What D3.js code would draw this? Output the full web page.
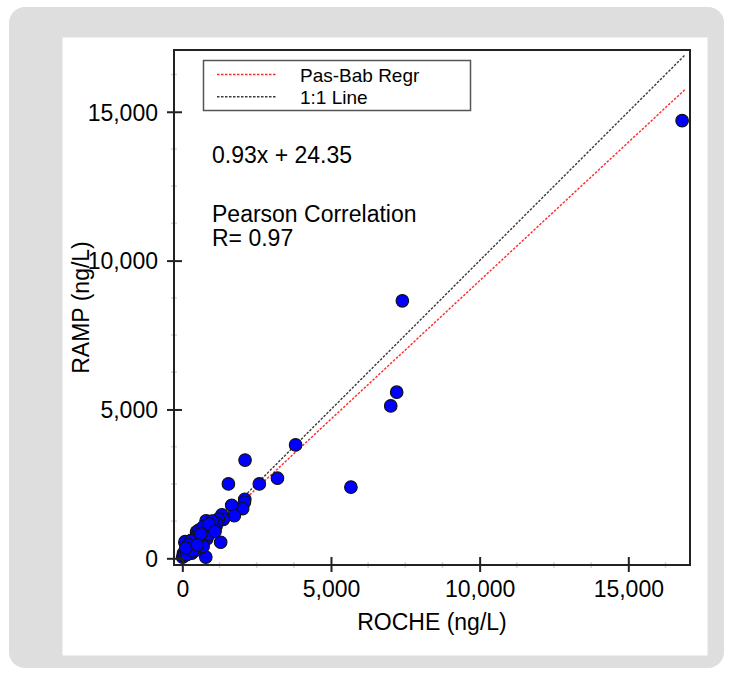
<!DOCTYPE html>
<html>
<head>
<meta charset="utf-8">
<script src="https://cdn.jsdelivr.net/npm/d3@7"></script>
<style>
  html, body { margin: 0; padding: 0; background: #fff; }
  text { font-family: "Liberation Sans", Arial, sans-serif; fill: #000; }
</style>
</head>
<body>
<svg id="chart" width="732" height="676"></svg>
<script>
// data (ng/L)
const roche = [16810, 7400, 7210, 7010, 5670, 3810, 3200, 2590, 2110, 1550,
  2100, 2090, 2030, 1660, 1750, 1330, 1380, 1210, 1130, 1160,
  1290, 800, 820, 930, 720, 820, 650, 480, 790, 370,
  430, 260, 90, 95, 150, 320, 480, 40, 10, 60,
  200, 550, 600, 700, 1000, 900, 250, 150, 380, 1050,
  560, 700, 1000, 900, 450, 300, 620, 1100, 350, 200, 120, 500];
const ramp = [14700, 8650, 5580, 5120, 2390, 3810, 2690, 2500, 3300, 2500,
  1980, 1890, 1670, 1780, 1430, 1460, 1310, 1320, 1060, 1180,
  540, 1260, 1100, 950, 850, 650, 730, 890, 40, 620,
  400, 450, 520, 560, 280, 170, 280, 170, 40, 90,
  200, 600, 500, 400, 1000, 800, 300, 120, 450, 1150,
  950, 1050, 1250, 1150, 700, 600, 820, 900, 250, 450, 350, 450];

const xTicks = [0, 5000, 10000, 15000];
const yTicks = [0, 5000, 10000, 15000];
const minorStep = 1250;

const slope = 0.93, intercept = 24.35;
const lineEnd = 16900;

const legendItems = [
  {label: "Pas-Bab Regr", color: "#ff2a2a"},
  {label: "1:1 Line", color: "#3a3a3a"}
];

const svg = d3.select("#chart");

// background panels
svg.append("rect").attr("x", 9).attr("y", 7).attr("width", 715).attr("height", 661)
  .attr("rx", 16).attr("fill", "#dedede");
svg.append("rect").attr("x", 62.5).attr("y", 37.5).attr("width", 645).attr("height", 618)
  .attr("fill", "#fff");

const plotLeft = 174, plotTop = 50, plotRight = 690, plotBottom = 565;

const x = d3.scaleLinear().domain([-280, 17075]).range([plotLeft, plotRight]);
const y = d3.scaleLinear().domain([-225, 17075]).range([plotBottom, plotTop]);

svg.append("clipPath").attr("id", "plotclip")
  .append("rect").attr("x", plotLeft).attr("y", plotTop)
  .attr("width", plotRight - plotLeft).attr("height", plotBottom - plotTop);

// minor ticks
const xMinor = d3.range(0, 17075, minorStep).filter(v => !xTicks.includes(v));
const yMinor = d3.range(0, 17075, minorStep).filter(v => !yTicks.includes(v));

svg.append("g").selectAll("line").data(xMinor).join("line")
  .attr("x1", d => x(d)).attr("x2", d => x(d))
  .attr("y1", plotBottom - 3).attr("y2", plotBottom + 3)
  .attr("stroke", "#d6d6d6").attr("stroke-width", 1.5);
svg.append("g").selectAll("line").data(yMinor).join("line")
  .attr("y1", d => y(d)).attr("y2", d => y(d))
  .attr("x1", plotLeft - 3).attr("x2", plotLeft + 3)
  .attr("stroke", "#d6d6d6").attr("stroke-width", 1.5);

// reference lines
const lines = svg.append("g").attr("clip-path", "url(#plotclip)");
lines.append("line")
  .attr("x1", x(0)).attr("y1", y(intercept))
  .attr("x2", x(lineEnd)).attr("y2", y(slope * lineEnd + intercept))
  .attr("stroke", legendItems[0].color).attr("stroke-width", 1.4)
  .attr("stroke-dasharray", "2.5,1.5");
lines.append("line")
  .attr("x1", x(0)).attr("y1", y(0))
  .attr("x2", x(lineEnd)).attr("y2", y(lineEnd))
  .attr("stroke", legendItems[1].color).attr("stroke-width", 1.4)
  .attr("stroke-dasharray", "2.5,1.5");

// points
const points = roche.map((r, i) => ({x: r, y: ramp[i]}));
svg.append("g").selectAll("circle").data(points).join("circle")
  .attr("cx", d => x(d.x)).attr("cy", d => y(d.y))
  .attr("r", 6.3)
  .attr("fill", "#0000ff").attr("stroke", "#111").attr("stroke-width", 1.1);

// frame
svg.append("rect").attr("x", plotLeft).attr("y", plotTop)
  .attr("width", plotRight - plotLeft).attr("height", plotBottom - plotTop)
  .attr("fill", "none").attr("stroke", "#222").attr("stroke-width", 2);

// axes
const fmt = d3.format(",");
const xAxis = svg.append("g").attr("transform", `translate(0,${plotBottom})`)
  .call(d3.axisBottom(x).tickValues(xTicks).tickFormat(fmt).tickSize(7));
xAxis.select(".domain").remove();
xAxis.selectAll(".tick line").attr("y1", -8).attr("y2", 7)
  .attr("stroke", "#222").attr("stroke-width", 2);
xAxis.selectAll(".tick text").attr("y", 32).attr("dy", 0)
  .attr("font-size", 23).attr("fill", "#000")
  .attr("font-family", "Liberation Sans, Arial, sans-serif");

const yAxis = svg.append("g").attr("transform", `translate(${plotLeft},0)`)
  .call(d3.axisLeft(y).tickValues(yTicks).tickFormat(fmt).tickSize(7));
yAxis.select(".domain").remove();
yAxis.selectAll(".tick line").attr("x1", -7).attr("x2", 8)
  .attr("stroke", "#222").attr("stroke-width", 2);
yAxis.selectAll(".tick text").attr("x", -16).attr("dy", "0.36em")
  .attr("font-size", 23).attr("fill", "#000")
  .attr("font-family", "Liberation Sans, Arial, sans-serif");

// axis titles
svg.append("text")
  .attr("x", (plotLeft + plotRight) / 2).attr("y", 630)
  .attr("text-anchor", "middle").attr("font-size", 23)
  .text("ROCHE (ng/L)");
svg.append("text")
  .attr("transform", `translate(89,${(plotTop + plotBottom) / 2}) rotate(-90)`)
  .attr("text-anchor", "middle").attr("font-size", 23)
  .text("RAMP (ng/L)");

// legend
const legend = svg.append("g");
legend.append("rect").attr("x", 203.5).attr("y", 60.5).attr("width", 267).attr("height", 50)
  .attr("fill", "#fff").attr("stroke", "#555").attr("stroke-width", 1.5);
legendItems.forEach((item, i) => {
  const ly = 74.5 + i * 22.3;
  legend.append("line").attr("x1", 217).attr("x2", 276)
    .attr("y1", ly).attr("y2", ly)
    .attr("stroke", item.color).attr("stroke-width", 1.4)
    .attr("stroke-dasharray", "2.5,1.5");
  legend.append("text").attr("x", 300).attr("y", ly + 7)
    .attr("font-size", 19).text(item.label);
});

// annotations
const notes = [
  {text: `${slope}x + ${intercept}`, y: 163},
  {text: "Pearson Correlation", y: 221.5},
  {text: "R= 0.97", y: 246}
];
svg.append("g").selectAll("text").data(notes).join("text")
  .attr("x", 212).attr("y", d => d.y)
  .attr("font-size", 23)
  .text(d => d.text);
</script>
</body>
</html>
